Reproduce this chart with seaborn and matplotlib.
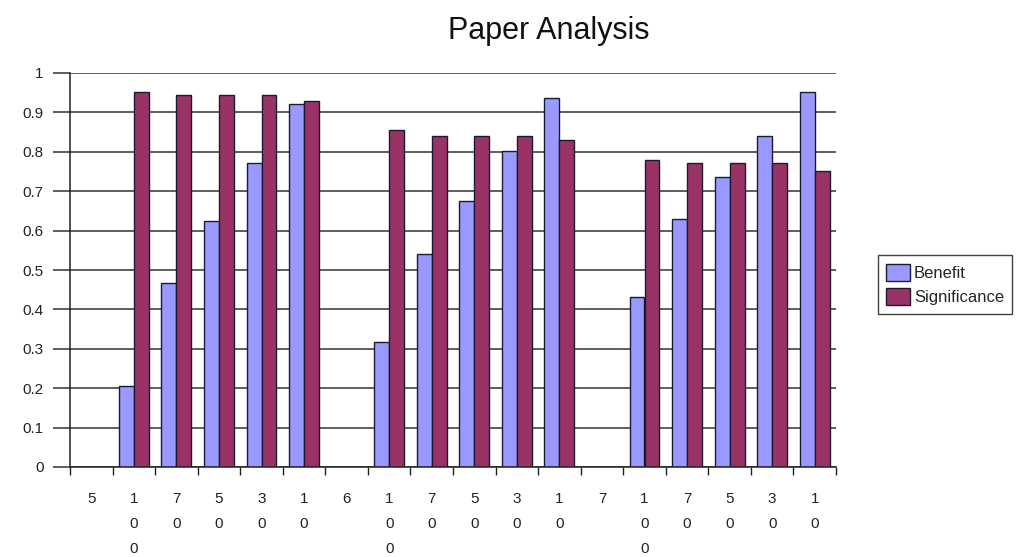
import numpy as np
import pandas as pd
import matplotlib
matplotlib.use("Agg")
import matplotlib.pyplot as plt
import seaborn as sns

# Category labels along the x axis (each group: size header, then thresholds)
categories = ["5", "100", "70", "50", "30", "10",
              "6", "100", "70", "50", "30", "10",
              "7", "100", "70", "50", "30", "10"]

benefit = [np.nan, 0.205, 0.468, 0.625, 0.771, 0.921,
           np.nan, 0.318, 0.541, 0.674, 0.803, 0.936,
           np.nan, 0.431, 0.630, 0.735, 0.840, 0.952]

significance = [np.nan, 0.952, 0.945, 0.945, 0.945, 0.928,
                np.nan, 0.855, 0.840, 0.840, 0.840, 0.831,
                np.nan, 0.780, 0.771, 0.771, 0.771, 0.751]

series_names = ["Benefit", "Significance"]
colors = ["#9999FF", "#993366"]
y_ticks = [0, 0.1, 0.2, 0.3, 0.4, 0.5, 0.6, 0.7, 0.8, 0.9, 1]
y_tick_labels = ["0", "0.1", "0.2", "0.3", "0.4", "0.5", "0.6", "0.7", "0.8", "0.9", "1"]

positions = list(range(len(categories)))
df = pd.DataFrame({
    "pos": positions * 2,
    "value": benefit + significance,
    "series": [series_names[0]] * len(categories) + [series_names[1]] * len(categories),
})

sns.set_style("white")
plt.rcParams["font.family"] = ["Liberation Sans", "DejaVu Sans"]

fig = plt.figure(figsize=(10.16, 5.57), dpi=100)
ax = fig.add_axes([70 / 1016, 1 - 467 / 557, 766 / 1016, 394 / 557])

# horizontal grid lines drawn behind the bars
for y in y_ticks:
    ax.axhline(y, color="#333333", linewidth=1.1, zorder=0)

sns.barplot(data=df, x="pos", y="value", hue="series", order=positions,
            palette=colors, width=0.7, edgecolor="#1a1a33", linewidth=1.0,
            saturation=1, ax=ax, zorder=2, legend=True)

ax.set_xlim(-0.5, len(categories) - 0.5)
ax.set_ylim(0, 1)
ax.set_xlabel("")
ax.set_ylabel("")

# stacked, one character per line tick labels
ax.set_xticks(positions)
ax.set_xticklabels(["\n".join(c) for c in categories], fontsize=11, color="#222222",
                   va="top")
for lbl in ax.get_xticklabels():
    lbl.set_linespacing(1.98)
ax.tick_params(axis="x", which="major", length=0, pad=18)
ax.set_xticks(np.arange(-0.5, len(categories), 1.0), minor=True)
ax.tick_params(axis="x", which="minor", length=6, width=1.0, color="#222222", direction="out",
               bottom=True)

ax.set_yticks(y_ticks)
ax.set_yticklabels(y_tick_labels, fontsize=11, color="#222222")
ax.tick_params(axis="y", length=12, width=1.1, color="#333333", direction="out", left=True, pad=7)

for side in ["top", "right"]:
    ax.spines[side].set_visible(False)
ax.spines["left"].set_color("#222222")
ax.spines["left"].set_linewidth(1.1)
ax.spines["bottom"].set_color("#222222")
ax.spines["bottom"].set_linewidth(1.1)

fig.text(549 / 1016, 1 - 39 / 557, "Paper Analysis", fontsize=22, ha="center", va="baseline",
         color="#111111")

handles, labels = ax.get_legend_handles_labels()
ax.legend_.remove()
leg = fig.legend(handles, labels, loc="center left", bbox_to_anchor=(878 / 1016, 1 - 284.5 / 557),
                 frameon=True, fancybox=False, edgecolor="#111111", fontsize=12,
                 handlelength=1.4, handleheight=1.2, handletextpad=0.25, borderpad=0.5,
                 labelspacing=0.45, borderaxespad=0)
leg.get_frame().set_linewidth(1.0)

fig.savefig("out.png", dpi=100, facecolor="white")
